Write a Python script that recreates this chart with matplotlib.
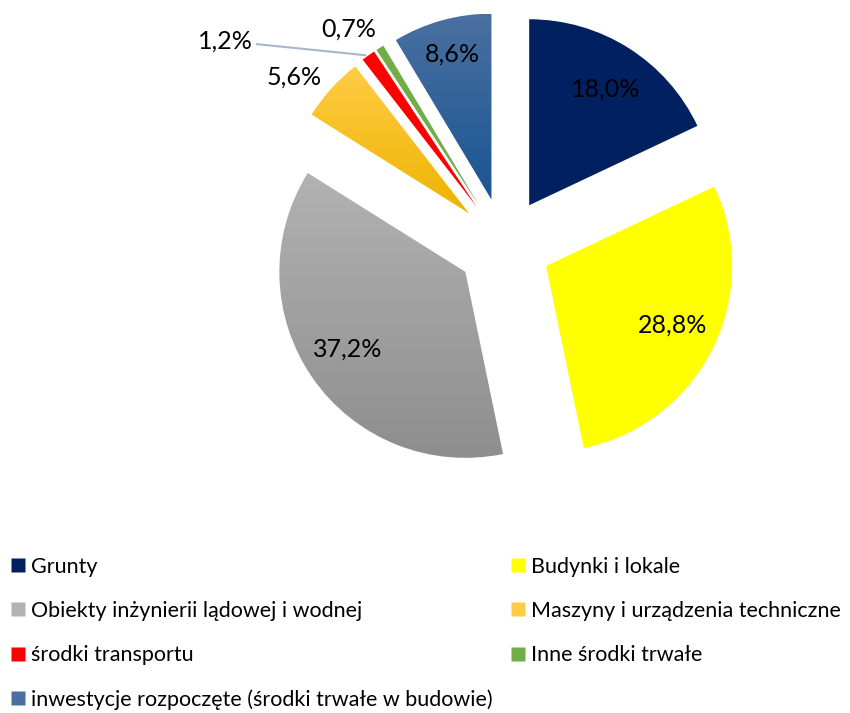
import numpy as np
import matplotlib.pyplot as plt
from matplotlib.lines import Line2D
from matplotlib.colors import LinearSegmentedColormap

plt.rcParams['font.family'] = ['Lato', 'DejaVu Sans']

# dane
kategorie = ['Grunty', 'Budynki i lokale', 'Obiekty inżynierii lądowej i wodnej',
             'Maszyny i urządzenia techniczne', 'środki transportu',
             'Inne środki trwałe', 'inwestycje rozpoczęte (środki trwałe w budowie)']
udzialy = [18.0, 28.8, 37.2, 5.6, 1.2, 0.7, 8.6]
kolory = ['#002060', '#FFFF00', '#A0A0A0', '#FFC000', '#FF0000', '#70AD47', '#2E5F98']
# gradient (gora, dol) albo None
gradienty = [None, None, ('#B2B2B2', '#8E8E8E'), ('#FFCC45', '#EEB400'),
             None, None, ('#4A70A0', '#1A5592')]

# polozenie etykiet: (odleglosc od wierzcholka, przesuniecie kata)
etykiety_poz = [(0.75, -1), (0.75, 1.5), (0.755, -1.5), (1.19, 4.3), (1.62, 21), (1.18, 4.3), (0.81, -0.4)]

R = 186.0  # px na jednostke
W, H = 850, 713
cx, cy = 504.0, 245.0

fig = plt.figure(figsize=(W / 100, H / 100), dpi=100)
ax = fig.add_axes([0, 0, 1, 1])
wedges, _ = ax.pie(udzialy, colors=kolory, startangle=90, counterclock=False,
                   explode=[0.253] * len(udzialy), radius=1,
                   wedgeprops=dict(linewidth=0))

# gradienty
for w, g in zip(wedges, gradienty):
    if g is None:
        continue
    w.set_facecolor('none')
    ext = w.get_path().get_extents()
    cmap = LinearSegmentedColormap.from_list('g', [g[1], g[0]])
    grad = np.linspace(0, 1, 256).reshape(-1, 1)
    im = ax.imshow(grad, cmap=cmap, origin='lower',
                   extent=[ext.x0, ext.x1, ext.y0, ext.y1],
                   aspect='auto', zorder=w.get_zorder())
    im.set_clip_path(w)
ax.set_xlim(-cx / R, (W - cx) / R)
ax.set_ylim(-(H - cy) / R, cy / R)
ax.set_aspect('auto')
ax.axis('off')

for i, w in enumerate(wedges):
    tekst = f'{udzialy[i]:.1f}%'.replace('.', ',')
    mid = np.deg2rad((w.theta1 + w.theta2) / 2)
    d, dth = etykiety_poz[i]
    a = mid + np.deg2rad(dth)
    x, y = w.center[0] + d * np.cos(a), w.center[1] + d * np.sin(a)
    if i == 4:
        ex, ey = w.center[0] + np.cos(mid), w.center[1] + np.sin(mid)
        ax.annotate(tekst, xy=(ex, ey), xytext=(x, y), ha='center', va='center',
                    fontsize=18, color='black',
                    arrowprops=dict(arrowstyle='-', color='#A9B6C8', lw=1.5,
                                    shrinkA=1, shrinkB=2))
    else:
        ax.text(x, y, tekst, ha='center', va='center', fontsize=18, color='black')

# legenda - kolejnosc wierszami
uchwyty = [Line2D([], [], marker='s', linestyle='none', markersize=10,
                  markerfacecolor=(g[0] if g else k), markeredgecolor='none')
           for k, g in zip(kolory, gradienty)]
kol = [0, 2, 4, 6, 1, 3, 5]
fig.legend([uchwyty[i] for i in kol], [kategorie[i] for i in kol], ncol=2,
           loc='upper left', bbox_to_anchor=(0.002, 0.231), frameon=False,
           fontsize=15.5, handlelength=0.7, handletextpad=0.25,
           labelspacing=1.12, columnspacing=0.85, borderaxespad=0)

fig.savefig('out.png', dpi=100)
